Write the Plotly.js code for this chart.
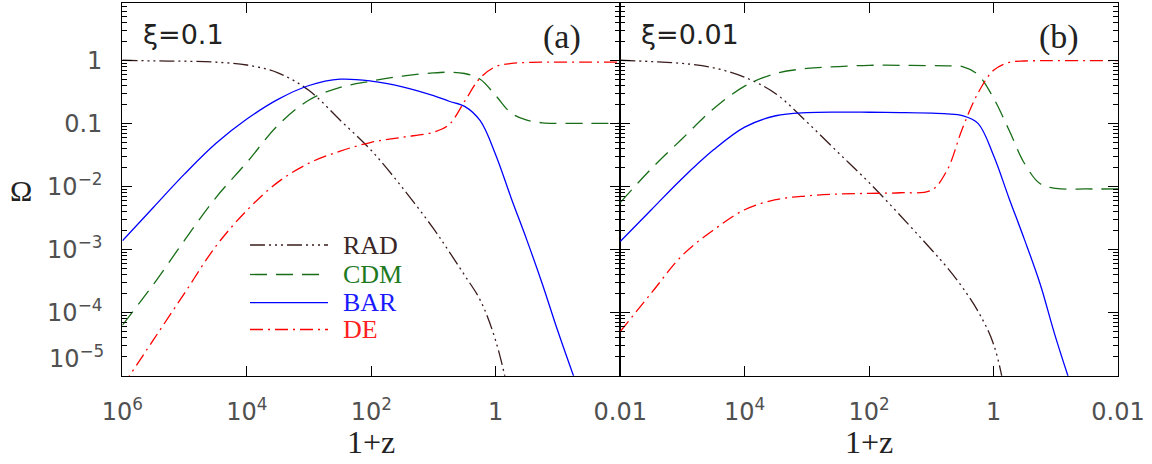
<!DOCTYPE html>
<html>
<head>
<meta charset="utf-8">
<script src="https://cdn.plot.ly/plotly-3.0.1.min.js"></script>
<style>html,body{margin:0;padding:0;background:#fff;}#chart{width:1152px;height:464px;}</style>
</head>
<body>
<div id="chart"></div>
<script>
// 1+z grid (shared by all curves)
const onePlusZ = [1e6, 3.162e5, 1e5, 3.162e4, 1e4, 3162, 1000, 316.2, 100, 31.62, 10, 5.623, 3.162, 1.778, 1, 0.5623, 0.3162, 0.1778, 0.1, 0.03162, 0.01];

// Panel (a): xi = 0.1
const radA = [1.0, 0.977, 0.966, 0.933, 0.841, 0.631, 0.331, 0.112, 0.0372, 9.55e-3, 2.14e-3, 9.3e-4, 3.9e-4, 1.58e-4, 3.55e-5, 3.16e-6, 1e-7];
const cdmA = [6.31e-5, 2.82e-4, 1.41e-3, 6.61e-3, 0.0240, 0.0933, 0.234, 0.372, 0.468, 0.562, 0.631, 0.646, 0.617, 0.501, 0.275, 0.145, 0.112, 0.102, 0.100, 0.100, 0.100];
const barA = [1.38e-3, 4.68e-3, 1.58e-2, 4.79e-2, 0.117, 0.240, 0.398, 0.501, 0.468, 0.380, 0.275, 0.224, 0.186, 0.110, 0.0316, 6.46e-3, 1.41e-3, 2.82e-4, 5.01e-5, 2.0e-6, 7.9e-8];
const deA  = [6.76e-6, 3.72e-5, 2.04e-4, 1.12e-3, 4.17e-3, 0.0117, 0.0234, 0.0363, 0.0501, 0.0603, 0.0724, 0.0955, 0.224, 0.525, 0.794, 0.891, 0.923, 0.933, 0.933, 0.933, 0.933];

// Panel (b): xi = 0.01
const radB = [1.0, 0.955, 0.891, 0.759, 0.537, 0.295, 0.105, 0.0347, 0.0115, 3.47e-3, 1.0e-3, 5.25e-4, 2.51e-4, 1.05e-4, 3.16e-5, 2.51e-6, 1e-7];
const cdmB = [5.53e-3, 0.0191, 0.0575, 0.170, 0.389, 0.617, 0.741, 0.794, 0.832, 0.832, 0.822, 0.813, 0.794, 0.589, 0.251, 0.0776, 0.0229, 0.0110, 9.33e-3, 9.12e-3, 9.12e-3];
const barB = [1.34e-3, 4.27e-3, 1.35e-2, 3.80e-2, 0.0871, 0.132, 0.148, 0.151, 0.150, 0.148, 0.145, 0.141, 0.132, 0.100, 0.0309, 6.46e-3, 1.41e-3, 2.82e-4, 3.98e-5, 1.26e-6, 5.0e-8];
const deB  = [5.01e-5, 2.04e-4, 8.13e-4, 2.04e-3, 4.27e-3, 6.17e-3, 7.08e-3, 7.59e-3, 7.76e-3, 7.94e-3, 8.71e-3, 0.0178, 0.0832, 0.302, 0.692, 0.923, 0.973, 0.984, 0.986, 0.986, 0.986];

const seriesNames = ['RAD', 'CDM', 'BAR', 'DE'];
const xTickVals = [1e6, 1e4, 1e2, 1, 0.01];
const xTickTextA = ['10<sup>6</sup>', '10<sup>4</sup>', '10<sup>2</sup>', '1', '0.01'];
const xTickTextB = ['', '10<sup>4</sup>', '10<sup>2</sup>', '1', '0.01'];
const yTickVals = [1, 0.1, 0.01, 1e-3, 1e-4];
const yTickText = ['1', '0.1', '10<sup>−2</sup>', '10<sup>−3</sup>', '10<sup>−4</sup>'];
const panelLabels = ['ξ=0.1', '(a)', 'ξ=0.01', '(b)'];

const W = 1152, H = 464;
const px = v => v / W, py = v => 1 - v / H;

const styles = {
  RAD: {color: '#3a1c1c', dash: '15px,4px,2px,4px,2px,4px,2px,4px', text: '#3a2626'},
  CDM: {color: '#176e17', dash: '17px,9px', text: '#1f7a1f'},
  BAR: {color: '#0000ff', dash: 'solid', text: '#1a1aff'},
  DE:  {color: '#ff0000', dash: '13px,5px,2px,5px', text: '#ff2020'}
};

function mk(y, name, xa, ya) {
  const s = styles[name];
  return {x: onePlusZ.slice(0, y.length), y: y, type: 'scatter', mode: 'lines', name: name,
    xaxis: xa, yaxis: ya, showlegend: false, hoverinfo: 'skip',
    line: {color: s.color, width: 1.3, dash: s.dash, shape: 'spline', smoothing: 1}};
}

const data = [
  mk(radA, 'RAD', 'x', 'y'), mk(cdmA, 'CDM', 'x', 'y'), mk(barA, 'BAR', 'x', 'y'), mk(deA, 'DE', 'x', 'y'),
  mk(radB, 'RAD', 'x2', 'y2'), mk(cdmB, 'CDM', 'x2', 'y2'), mk(barB, 'BAR', 'x2', 'y2'), mk(deB, 'DE', 'x2', 'y2')
];

const minorVals = [];
for (let d = -5; d <= 0; d++) for (let k = 2; k <= 9; k++) minorVals.push(k * Math.pow(10, d));

const tickFont = {family: "'DejaVu Sans', sans-serif", size: 24, color: '#505050'};
const serif = "'Liberation Serif', 'Times New Roman', serif";

const xBase = {type: 'log', range: [6, -2], autorange: false, showgrid: false, zeroline: false,
  showline: true, linecolor: '#000', linewidth: 1.2, mirror: 'ticks', ticks: 'inside', ticklen: 10,
  tickwidth: 1, tickcolor: '#000', tickmode: 'array', tickvals: xTickVals, tickfont: tickFont,
  ticklabelstandoff: 14};
const yBase = {type: 'log', range: [-5, 0.903], autorange: false, showgrid: false, zeroline: false,
  showline: true, linecolor: '#000', linewidth: 1.2, mirror: 'ticks', ticks: 'inside', ticklen: 10,
  tickwidth: 1, tickcolor: '#000', tickmode: 'array', tickvals: yTickVals, ticktext: yTickText,
  tickfont: tickFont, ticklabelstandoff: 14,
  minor: {tickmode: 'array', tickvals: minorVals, ticks: 'inside', ticklen: 5, tickwidth: 1, tickcolor: '#000', showgrid: false},
  domain: [0.1903, 0.9929]};

const layout = {
  width: W, height: H, margin: {l: 0, r: 0, t: 0, b: 0},
  paper_bgcolor: '#fff', plot_bgcolor: '#fff', showlegend: false,
  xaxis: Object.assign({}, xBase, {domain: [0.10625, 0.53837], ticktext: xTickTextA, anchor: 'y'}),
  yaxis: Object.assign({}, yBase, {anchor: 'x'}),
  xaxis2: Object.assign({}, xBase, {domain: [0.53837, 0.97049], ticktext: xTickTextB, anchor: 'y2'}),
  yaxis2: Object.assign({}, yBase, {anchor: 'x2', showticklabels: false}),
  shapes: [], annotations: []
};

// bottom y label shifted like the original
layout.annotations.push({xref: 'paper', yref: 'paper', x: px(106), y: py(357), xanchor: 'right', yanchor: 'middle',
  text: '10<sup>−5</sup>', showarrow: false, font: tickFont});

// axis titles
[371, 869].forEach(cx => layout.annotations.push({xref: 'paper', yref: 'paper', x: px(cx), y: py(442),
  xanchor: 'center', yanchor: 'middle', text: '1+z', showarrow: false, font: {family: serif, size: 32, color: '#222'}}));
layout.annotations.push({xref: 'paper', yref: 'paper', x: px(21), y: py(190), xanchor: 'center', yanchor: 'middle',
  text: 'Ω', showarrow: false, font: {family: serif, size: 30, color: '#222'}});

// panel labels
const lbl = [[141, 34, panelLabels[0], 'l', 'sans'], [583, 37, panelLabels[1], 'r', 'serif'],
             [639, 34, panelLabels[2], 'l', 'sans'], [1081, 37, panelLabels[3], 'r', 'serif']];
lbl.forEach(([x, y, t, a, f]) => layout.annotations.push({xref: 'paper', yref: 'paper', x: px(x), y: py(y),
  xanchor: a === 'l' ? 'left' : 'right', yanchor: 'middle', text: t, showarrow: false,
  font: f === 'sans' ? {family: tickFont.family, size: 27, color: '#222'} : {family: serif, size: 34, color: '#222'}}));

// legend (drawn by hand, like the original)
const legY = [245, 274.5, 302.7, 329.5];
seriesNames.forEach((n, i) => {
  const s = styles[n];
  layout.shapes.push({type: 'line', xref: 'paper', yref: 'paper', x0: px(250), x1: px(328), y0: py(legY[i]), y1: py(legY[i]),
    line: {color: s.color, width: 1.3, dash: s.dash}});
  layout.annotations.push({xref: 'paper', yref: 'paper', x: px(341), y: py(legY[i]), xanchor: 'left', yanchor: 'middle',
    text: n, showarrow: false, font: {family: serif, size: 26, color: s.text}});
});

Plotly.newPlot('chart', data, layout, {staticPlot: true, displayModeBar: false});
</script>
</body>
</html>
